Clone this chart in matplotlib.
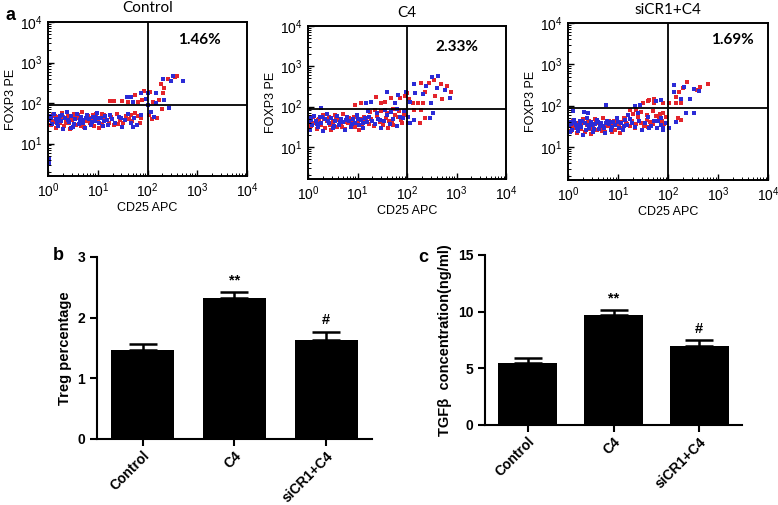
import matplotlib
matplotlib.use('Agg')
import matplotlib.pyplot as plt
from matplotlib.ticker import LogLocator, LogFormatterMathtext, NullFormatter

plt.rcParams['font.family'] = ['Liberation Sans', 'DejaVu Sans']
plt.rcParams['mathtext.fontset'] = 'custom'
plt.rcParams['mathtext.rm'] = 'Liberation Sans'
plt.rcParams['mathtext.it'] = 'Liberation Sans'

# --- panel a: flow cytometry dots, (log10 CD25, log10 FOXP3) ---
ctrl_red = [
    (0.03, 1.62), (0.06, 1.45), (0.10, 1.70), (0.13, 1.53), (0.17, 1.39), (0.21, 1.66), (0.25, 1.51), (0.29, 1.76),
    (0.33, 1.43), (0.37, 1.60), (0.41, 1.69), (0.45, 1.36), (0.49, 1.57), (0.53, 1.74), (0.57, 1.47), (0.61, 1.63),
    (0.65, 1.53), (0.69, 1.78), (0.73, 1.41), (0.77, 1.58), (0.81, 1.68), (0.85, 1.50), (0.89, 1.62), (0.93, 1.44),
    (0.97, 1.72), (1.01, 1.56), (1.05, 1.64), (1.09, 1.49), (1.13, 1.70), (1.17, 1.59), (1.22, 1.52), (1.27, 1.66),
    (1.32, 1.47), (1.38, 1.73), (1.44, 1.58), (1.50, 1.50), (1.56, 1.67), (1.62, 1.61), (1.69, 1.55), (1.75, 1.76),
    (1.81, 1.69), (1.87, 1.62), (0.08, 1.55), (0.19, 1.62), (0.31, 1.65), (0.43, 1.50), (0.55, 1.66), (0.67, 1.44),
    (0.79, 1.55), (0.91, 1.70), (1.03, 1.38), (1.15, 1.61), (0.14, 1.68), (0.36, 1.52), (0.60, 1.71), (0.84, 1.59),
    (1.08, 1.73), (1.40, 1.48), (1.66, 1.71), (1.84, 1.52),
    (2.60, 2.67), (2.55, 2.65), (2.41, 2.59), (2.27, 2.46), (2.33, 2.36), (2.32, 2.25), (2.05, 2.28), (1.93, 2.30),
    (1.75, 2.20), (1.48, 2.05), (1.33, 2.05), (1.25, 2.05), (1.60, 2.03), (1.80, 2.03), (1.89, 2.07), (2.11, 2.02),
    (2.23, 2.07), (2.30, 1.85), (2.20, 1.62), (2.10, 1.60), (2.03, 1.70),
]
ctrl_blue = [
    (0.02, 1.58), (0.05, 1.68), (0.09, 1.49), (0.12, 1.73), (0.16, 1.60), (0.20, 1.44), (0.24, 1.69), (0.27, 1.56),
    (0.31, 1.35), (0.35, 1.64), (0.39, 1.77), (0.43, 1.54), (0.47, 1.67), (0.51, 1.42), (0.55, 1.61), (0.59, 1.72),
    (0.63, 1.49), (0.67, 1.65), (0.71, 1.57), (0.75, 1.38), (0.79, 1.70), (0.83, 1.60), (0.87, 1.46), (0.91, 1.66),
    (0.95, 1.56), (0.99, 1.75), (1.03, 1.51), (1.07, 1.62), (1.11, 1.43), (1.15, 1.68), (1.19, 1.57), (1.24, 1.71),
    (1.29, 1.60), (1.35, 1.52), (1.42, 1.66), (1.48, 1.42), (1.54, 1.59), (1.60, 1.74), (1.66, 1.52), (1.72, 1.64),
    (1.79, 1.47), (1.86, 1.71), (0.07, 1.63), (0.18, 1.52), (0.29, 1.71), (0.41, 1.59), (0.52, 1.48), (0.64, 1.58),
    (0.76, 1.63), (0.88, 1.53), (1.00, 1.64), (1.12, 1.55), (0.23, 1.61), (0.47, 1.38), (0.71, 1.52), (0.95, 1.66),
    (1.21, 1.45), (1.46, 1.62), (1.70, 1.42), (0.02, 0.62), (0.02, 0.52),
    (2.52, 2.67), (2.72, 2.54), (2.48, 2.55), (2.31, 2.59), (2.17, 2.25), (2.00, 2.24), (1.87, 2.24), (1.67, 2.16),
    (1.58, 2.16), (1.70, 2.02), (1.97, 2.09), (2.17, 2.01), (2.33, 2.07), (2.43, 1.89), (2.08, 1.79), (2.13, 1.66),
    (2.00, 1.95),
]
c4_red = [
    (0.02, 1.66), (0.06, 1.52), (0.10, 1.74), (0.14, 1.58), (0.18, 1.44), (0.22, 1.70), (0.26, 1.55), (0.30, 1.80),
    (0.34, 1.47), (0.38, 1.64), (0.42, 1.73), (0.46, 1.41), (0.50, 1.61), (0.54, 1.78), (0.58, 1.50), (0.62, 1.67),
    (0.66, 1.57), (0.70, 1.82), (0.74, 1.45), (0.78, 1.62), (0.82, 1.72), (0.86, 1.54), (0.90, 1.66), (0.94, 1.48),
    (0.98, 1.76), (1.02, 1.60), (1.06, 1.68), (1.10, 1.53), (1.14, 1.74), (1.18, 1.63), (1.23, 1.56), (1.28, 1.70),
    (1.33, 1.51), (1.39, 1.77), (1.45, 1.62), (1.51, 1.54), (1.57, 1.71), (1.63, 1.65), (1.70, 1.59), (1.76, 1.80),
    (1.82, 1.73), (1.88, 1.66), (0.08, 1.59), (0.20, 1.66), (0.32, 1.69), (0.44, 1.54), (0.56, 1.70), (0.68, 1.48),
    (0.80, 1.59), (0.92, 1.74), (1.04, 1.42), (1.16, 1.65), (1.26, 1.86), (1.48, 1.90), (1.60, 1.84), (1.72, 1.93),
    (1.84, 1.88), (1.93, 1.79), (1.36, 1.91), (1.90, 1.60),
    (2.55, 2.66), (2.44, 2.59), (2.29, 2.58), (2.68, 2.56), (2.81, 2.51), (2.88, 2.35), (2.71, 2.18), (2.56, 2.26),
    (2.36, 2.37), (2.32, 2.10), (2.22, 2.10), (2.12, 2.08), (2.05, 2.18), (2.01, 2.33), (1.95, 2.25), (1.85, 2.21),
    (1.67, 2.21), (1.56, 2.12), (1.47, 2.08), (1.38, 2.23), (1.08, 2.08), (0.94, 2.04), (2.36, 1.71), (2.26, 1.59),
    (2.02, 1.59), (1.92, 1.71), (1.72, 1.55), (1.62, 1.46), (2.15, 1.92), (2.29, 1.92),
]
c4_blue = [
    (0.02, 1.62), (0.05, 1.72), (0.09, 1.53), (0.12, 1.77), (0.16, 1.64), (0.20, 1.48), (0.24, 1.73), (0.27, 1.60),
    (0.31, 1.39), (0.35, 1.68), (0.39, 1.81), (0.43, 1.58), (0.47, 1.71), (0.51, 1.46), (0.55, 1.65), (0.59, 1.76),
    (0.63, 1.53), (0.67, 1.69), (0.71, 1.61), (0.75, 1.42), (0.79, 1.74), (0.83, 1.64), (0.87, 1.50), (0.91, 1.70),
    (0.95, 1.60), (0.99, 1.79), (1.03, 1.55), (1.07, 1.66), (1.11, 1.47), (1.15, 1.72), (1.19, 1.61), (1.24, 1.75),
    (1.29, 1.64), (1.35, 1.56), (1.42, 1.70), (1.48, 1.46), (1.54, 1.63), (1.60, 1.78), (1.66, 1.56), (1.72, 1.68),
    (1.79, 1.51), (1.86, 1.75), (0.07, 1.67), (0.18, 1.56), (0.29, 1.75), (0.41, 1.63), (0.52, 1.52), (0.64, 1.62),
    (0.76, 1.67), (0.88, 1.57), (1.00, 1.68), (1.12, 1.59), (1.22, 1.88), (1.40, 1.84), (1.55, 1.92), (1.68, 1.87),
    (1.80, 1.94), (1.92, 1.71), (1.94, 1.90), (0.05, 1.42),
    (2.63, 2.77), (2.51, 2.74), (2.39, 2.51), (2.14, 2.56), (2.17, 2.33), (2.32, 2.30), (2.61, 2.45), (2.77, 2.41),
    (2.86, 2.21), (2.48, 2.10), (2.07, 2.12), (1.97, 2.37), (1.82, 2.29), (1.60, 2.37), (1.28, 2.12), (1.18, 2.10),
    (1.76, 2.08), (2.53, 1.83), (2.46, 1.71), (2.14, 1.67), (2.07, 1.59), (2.02, 1.75), (1.45, 1.67), (0.26, 1.97),
]
si_red = [
    (0.02, 1.52), (0.06, 1.38), (0.10, 1.63), (0.14, 1.46), (0.18, 1.33), (0.22, 1.58), (0.26, 1.44), (0.30, 1.68),
    (0.34, 1.36), (0.38, 1.53), (0.42, 1.62), (0.46, 1.31), (0.50, 1.50), (0.54, 1.67), (0.58, 1.41), (0.62, 1.57),
    (0.66, 1.47), (0.70, 1.71), (0.74, 1.36), (0.78, 1.53), (0.82, 1.63), (0.86, 1.45), (0.90, 1.58), (0.94, 1.40),
    (0.98, 1.68), (1.02, 1.52), (1.06, 1.61), (1.10, 1.46), (1.14, 1.67), (1.18, 1.56), (1.23, 1.50), (1.28, 1.64),
    (1.33, 1.46), (1.39, 1.72), (1.45, 1.57), (1.51, 1.50), (1.57, 1.66), (1.63, 1.61), (1.70, 1.55), (1.76, 1.76),
    (1.82, 1.69), (1.88, 1.62), (0.08, 1.48), (0.20, 1.55), (0.32, 1.58), (0.44, 1.44), (0.56, 1.60), (0.68, 1.38),
    (0.80, 1.50), (0.92, 1.64), (1.04, 1.34), (1.16, 1.58), (1.30, 1.80), (1.45, 1.84), (1.58, 1.78), (1.70, 1.86),
    (1.84, 1.80), (1.92, 1.55), (0.12, 1.56), (0.40, 1.60), (0.64, 1.52), (0.88, 1.36), (1.12, 1.70), (1.36, 1.56),
    (1.60, 1.48),
    (2.80, 2.52), (2.64, 2.46), (2.58, 2.39), (2.38, 2.56), (2.30, 2.42), (2.22, 2.34), (2.15, 2.22), (2.25, 2.07),
    (2.15, 2.06), (2.02, 2.06), (1.89, 2.06), (1.72, 2.06), (1.59, 2.10), (1.49, 2.07), (1.72, 2.15), (1.62, 2.14),
    (2.20, 1.69), (2.25, 1.65), (1.89, 1.81), (1.95, 1.73), (1.36, 1.89), (1.23, 1.89),
]
si_blue = [
    (0.01, 1.50), (0.04, 1.60), (0.08, 1.42), (0.11, 1.66), (0.15, 1.53), (0.19, 1.38), (0.23, 1.62), (0.26, 1.49),
    (0.30, 1.30), (0.34, 1.57), (0.38, 1.70), (0.42, 1.47), (0.46, 1.60), (0.50, 1.36), (0.54, 1.55), (0.58, 1.66),
    (0.62, 1.43), (0.66, 1.59), (0.70, 1.51), (0.74, 1.33), (0.78, 1.64), (0.82, 1.55), (0.86, 1.41), (0.90, 1.61),
    (0.94, 1.52), (0.98, 1.71), (1.02, 1.47), (1.06, 1.58), (1.10, 1.40), (1.14, 1.65), (1.18, 1.54), (1.23, 1.68),
    (1.28, 1.57), (1.34, 1.49), (1.41, 1.63), (1.47, 1.40), (1.53, 1.57), (1.59, 1.72), (1.65, 1.50), (1.71, 1.62),
    (1.78, 1.46), (1.85, 1.69), (0.06, 1.55), (0.17, 1.46), (0.28, 1.64), (0.40, 1.53), (0.51, 1.43), (0.63, 1.53),
    (0.75, 1.58), (0.87, 1.48), (0.99, 1.60), (1.11, 1.51), (0.03, 1.35), (0.13, 1.59), (0.24, 1.55), (0.36, 1.42),
    (0.48, 1.52), (0.60, 1.61), (0.72, 1.46), (0.84, 1.60), (1.20, 1.78), (1.40, 1.82), (1.62, 1.46), (1.80, 1.62),
    (1.90, 1.40),
    (2.51, 2.40), (2.61, 2.35), (2.32, 2.46), (2.12, 2.50), (2.11, 2.34), (2.43, 2.15), (2.25, 2.15), (1.86, 2.14),
    (1.76, 2.11), (1.43, 2.01), (1.33, 1.99), (0.76, 2.01), (2.51, 1.83), (2.36, 1.83), (2.15, 1.61), (2.02, 1.45),
    (1.89, 1.45), (1.86, 1.53), (1.95, 1.57), (0.39, 1.81), (0.10, 1.88), (0.31, 1.85),
]

flow_titles = ['Control', 'C4', 'siCR1+C4']
flow_pct = ['1.46%', '2.33%', '1.69%']

# --- panels b and c ---
groups = ['Control', 'C4', 'siCR1+C4']
treg_mean = [1.47, 2.33, 1.63]
treg_err = [0.10, 0.10, 0.14]
tgfb_mean = [5.5, 9.7, 7.0]
tgfb_err = [0.38, 0.45, 0.50]
marks = ['', '**', '#']

RED = '#e3242b'
BLUE = '#2b2bd6'


def flow_panel(fig, rect, red, blue, title, pct, pct_xy, title_y):
    ax = fig.add_axes(rect)
    for pts, col in ((red, RED), (blue, BLUE)):
        xs = [10 ** p[0] for p in pts]
        ys = [10 ** p[1] for p in pts]
        ax.scatter(xs, ys, s=7, marker='s', color=col, linewidths=0)
    ax.set_xscale('log')
    ax.set_yscale('log')
    ax.set_xlim(1, 1e4)
    ax.set_ylim(10 ** 0.2, 1e4)
    ax.axvline(100, color='black', lw=1.3)
    ax.axhline(10 ** 1.95, color='black', lw=1.3)
    for sp in ax.spines.values():
        sp.set_linewidth(1.4)
    ax.xaxis.set_major_locator(LogLocator(base=10, numticks=10))
    ax.xaxis.set_major_formatter(LogFormatterMathtext())
    ax.xaxis.set_minor_locator(LogLocator(base=10, subs=range(2, 10), numticks=10))
    ax.xaxis.set_minor_formatter(NullFormatter())
    ax.yaxis.set_major_locator(LogLocator(base=10, numticks=10))
    ax.yaxis.set_major_formatter(LogFormatterMathtext())
    ax.yaxis.set_minor_locator(LogLocator(base=10, subs=range(2, 10), numticks=10))
    ax.yaxis.set_minor_formatter(NullFormatter())
    ax.tick_params(which='major', direction='in', length=4, width=1, labelsize=10, pad=4)
    ax.tick_params(which='minor', direction='in', length=2, width=0.7)
    ax.set_xlabel('CD25 APC', fontsize=9, labelpad=1)
    ax.set_ylabel('FOXP3 PE', fontsize=9, labelpad=2)
    ax.text(0.5, title_y, title, transform=ax.transAxes, ha='center', va='center',
            fontsize=11, family='Lato')
    ax.text(pct_xy[0], pct_xy[1], pct, transform=ax.transAxes, ha='center', va='center',
            fontsize=11, family='Lato', fontweight='bold')
    return ax


def bar_panel(fig, rect, means, errs, ymax, yticks, ylabel):
    ax = fig.add_axes(rect)
    x = list(range(len(groups)))
    ax.bar(x, means, width=0.69, color='black')
    ax.errorbar(x, means, yerr=[[0] * len(errs), errs], fmt='none', ecolor='black',
                elinewidth=1.8, capsize=10, capthick=1.8)
    for i, m in enumerate(marks):
        if m:
            ax.annotate(m, (x[i], means[i] + errs[i]), xytext=(0, 3), textcoords='offset points',
                        ha='center', va='bottom', fontsize=10.5, fontweight='bold')
    ax.set_xlim(-0.5, 2.5)
    ax.set_ylim(0, ymax)
    ax.set_yticks(yticks)
    ax.set_xticks(x)
    ax.set_xticklabels(groups, rotation=45, ha='right', rotation_mode='anchor')
    for lab in ax.get_xticklabels() + ax.get_yticklabels():
        lab.set_fontweight('bold')
    ax.tick_params(direction='out', length=5, width=1.5, labelsize=10)
    ax.tick_params(axis='x', pad=2)
    ax.spines['top'].set_visible(False)
    ax.spines['right'].set_visible(False)
    ax.spines['left'].set_linewidth(1.5)
    ax.spines['bottom'].set_linewidth(1.5)
    ax.set_ylabel(ylabel, fontsize=10.5, fontweight='bold')
    return ax


fig = plt.figure(figsize=(7.78, 5.05), dpi=100)

flow_panel(fig, [48 / 778, 1 - 176 / 505, 199 / 778, 154 / 505], ctrl_red, ctrl_blue,
           flow_titles[0], flow_pct[0], (0.76, 0.88), 1.09)
flow_panel(fig, [308 / 778, 1 - 179 / 505, 198 / 778, 153 / 505], c4_red, c4_blue,
           flow_titles[1], flow_pct[1], (0.75, 0.86), 1.085)
flow_panel(fig, [568 / 778, 1 - 180 / 505, 200 / 778, 157 / 505], si_red, si_blue,
           flow_titles[2], flow_pct[2], (0.82, 0.89), 1.08)

bar_panel(fig, [97 / 778, 1 - 439 / 505, 275 / 778, 182 / 505], treg_mean, treg_err,
          3, [0, 1, 2, 3], 'Treg percentage')
bar_panel(fig, [485 / 778, 1 - 425 / 505, 257 / 778, 170 / 505], tgfb_mean, tgfb_err,
          15, [0, 5, 10, 15], 'TGFβ  concentration(ng/ml)')

fig.text(10 / 778, 1 - 15 / 505, 'a', fontsize=13, fontweight='bold', ha='center', va='center')
fig.text(58 / 778, 1 - 256 / 505, 'b', fontsize=13, fontweight='bold', ha='center', va='center')
fig.text(423 / 778, 1 - 257 / 505, 'c', fontsize=13, fontweight='bold', ha='center', va='center')

fig.savefig('out.png', dpi=100)
